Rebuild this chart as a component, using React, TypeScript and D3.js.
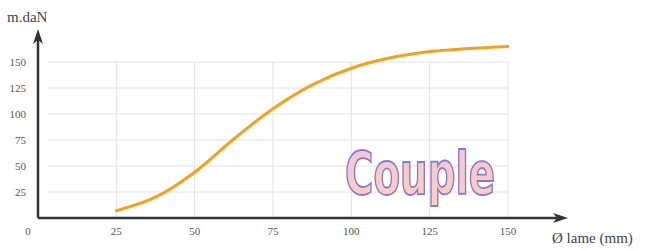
import React, { useEffect, useRef } from 'react';
import * as d3 from 'd3';

// couple (m.daN) vs diametre de lame (mm)
const diametres = [25, 37.5, 50, 62.5, 75, 87.5, 100, 112.5, 125, 137.5, 150];
const couples = [7, 20, 44, 76, 105, 128, 144, 154, 160, 163, 165];
const ticksX = [25, 50, 75, 100, 125, 150];
const ticksY = [25, 50, 75, 100, 125, 150];

export default function App() {
    const ref = useRef<SVGSVGElement>(null);
    const width = 664;
    const height = 251;

    useEffect(() => {
        const svg = d3.select(ref.current);
        svg.selectAll('*').remove();

        const x = d3.scaleLinear().domain([0, 150]).range([38, 508]);
        const y = d3.scaleLinear().domain([0, 150]).range([218, 62]);
        const font = 'Liberation Serif, Times New Roman, serif';

        const defs = svg.append('defs');
        const grad = defs.append('linearGradient')
            .attr('id', 'coupleFill')
            .attr('x1', '0').attr('x2', '0').attr('y1', '0').attr('y2', '1');
        grad.append('stop').attr('offset', '0%').attr('stop-color', '#f4c4dc');
        grad.append('stop').attr('offset', '100%').attr('stop-color', '#f9d2b8');

        // grid
        const grid = svg.append('g').attr('stroke', '#e2e2e2').attr('stroke-width', 1);
        grid.selectAll('line.h')
            .data(ticksY)
            .enter()
            .append('line')
            .attr('x1', 48).attr('x2', x(150))
            .attr('y1', (d) => y(d)).attr('y2', (d) => y(d));
        grid.selectAll('line.v')
            .data(ticksX)
            .enter()
            .append('line')
            .attr('x1', (d) => x(d)).attr('x2', (d) => x(d))
            .attr('y1', y(150)).attr('y2', y(0));

        // "Couple" label
        svg.append('text')
            .attr('transform', 'translate(420,194) scale(1,1.12)')
            .attr('text-anchor', 'middle')
            .attr('font-family', 'DejaVu Sans Condensed, Liberation Sans Narrow, sans-serif')
            .attr('font-weight', 'bold')
            .attr('font-size', 52)
            .attr('textLength', 150)
            .attr('lengthAdjust', 'spacingAndGlyphs')
            .attr('fill', 'url(#coupleFill)')
            .attr('stroke', '#8a78d6')
            .attr('stroke-width', 1.6)
            .text('Couple');

        // curve
        const line = d3.line<number>()
            .x((_, i) => x(diametres[i]))
            .y((d) => y(d))
            .curve(d3.curveCatmullRom.alpha(0.5));
        svg.append('path')
            .datum(couples)
            .attr('d', line)
            .attr('fill', 'none')
            .attr('stroke', '#f0a21c')
            .attr('stroke-width', 3)
            .attr('stroke-linecap', 'round');

        // axes with arrows
        const ax = svg.append('g').attr('stroke', '#333').attr('stroke-width', 2.5);
        ax.append('line').attr('x1', x(0)).attr('x2', 560).attr('y1', y(0)).attr('y2', y(0));
        ax.append('line').attr('x1', x(0)).attr('x2', x(0)).attr('y1', y(0)).attr('y2', 38);
        svg.append('path')
            .attr('d', `M${x(0)},29 L${x(0) - 5},44 L${x(0)},40 L${x(0) + 5},44 Z`)
            .attr('fill', '#333');
        svg.append('path')
            .attr('d', `M568,${y(0)} L553,${y(0) - 5} L557,${y(0)} L553,${y(0) + 5} Z`)
            .attr('fill', '#333');

        const labels = svg.append('g');
        labels.selectAll('text.x')
            .data(ticksX)
            .enter()
            .append('text')
            .attr('x', (d) => x(d))
            .attr('y', 235)
            .attr('text-anchor', 'middle')
            .style('font-family', font)
            .style('font-size', '11px')
            .style('fill', '#555')
            .text((d) => d);
        labels.append('text')
            .attr('x', x(0) - 10)
            .attr('y', 235)
            .attr('text-anchor', 'middle')
            .style('font-family', font)
            .style('font-size', '11px')
            .style('fill', '#555')
            .text('0');
        labels.selectAll('text.y')
            .data(ticksY)
            .enter()
            .append('text')
            .attr('x', 26)
            .attr('y', (d) => y(d) + 4)
            .attr('text-anchor', 'end')
            .style('font-family', font)
            .style('font-size', '11px')
            .style('fill', '#555')
            .text((d) => d);

        svg.append('text')
            .attr('x', 7)
            .attr('y', 22)
            .style('font-family', font)
            .style('font-size', '15px')
            .style('fill', '#444')
            .text('m.daN');
        svg.append('text')
            .attr('x', 552)
            .attr('y', 243)
            .style('font-family', font)
            .style('font-size', '15px')
            .style('fill', '#444')
            .text('Ø lame (mm)');
    });

    return (
        <svg ref={ref} width={width} height={height}
            style={{ position: 'absolute', left: 0, top: 0, background: '#fff' }} />
    );
}
